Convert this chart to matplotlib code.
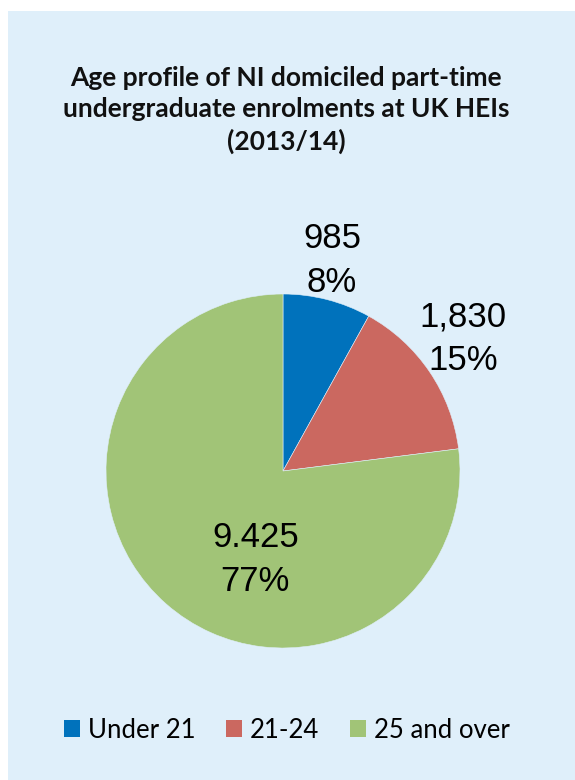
import matplotlib
import numpy as np

matplotlib.use("Agg")
import matplotlib.pyplot as plt  # noqa: E402
from matplotlib.patches import Patch, Rectangle  # noqa: E402

# NI domiciled part-time undergraduate enrolments at UK HEIs, 2013/14
AGE_GROUPS = ["Under 21", "21-24", "25 and over"]
ENROLMENTS = [985, 1830, 9425]
VALUE_TEXT = ["985", "1,830", "9.425"]
COLORS = ["#0072BC", "#CB6860", "#A1C477"]
BG = "#DFEFFA"

W, H = 575, 780
fig = plt.figure(figsize=(W / 100, H / 100), dpi=100)
fig.patch.set_facecolor("white")
fig.patches.append(Rectangle((8 / W, 0), 1 - 8 / W, 1 - 11 / H, transform=fig.transFigure,
                             facecolor=BG, edgecolor="none", zorder=-1))

fig.text(286 / W, 1 - 110 / H,
         "Age profile of NI domiciled part-time\nundergraduate enrolments at UK HEIs\n(2013/14)",
         ha="center", va="center", fontsize=19, fontweight="bold", family="Lato",
         linespacing=1.36, color="#111111")

# pie: centre (283, 471) px, radius 177 px
cx, cy, r = 283, 471, 177
ax = fig.add_axes([(cx - r) / W, (H - cy - r) / H, 2 * r / W, 2 * r / H])
wedges, _ = ax.pie(ENROLMENTS, colors=COLORS, startangle=90, counterclock=False, radius=1,
                   wedgeprops=dict(edgecolor=BG, linewidth=0.4))
ax.set_xlim(-1, 1)
ax.set_ylim(-1, 1)
ax.axis("off")

total = sum(ENROLMENTS)
# label offsets in units of the radius: (distance along wedge mid-angle, extra x, extra y)
label_pos = [(1.24, -0.034, -0.011), (1.26, -0.025, 0.039), (0.0, -0.156, -0.50)]
for w, v, txt, (d, ox, oy) in zip(wedges, ENROLMENTS, VALUE_TEXT, label_pos):
    mid = np.deg2rad((w.theta1 + w.theta2) / 2)
    x, y = d * np.cos(mid) + ox, d * np.sin(mid) + oy
    ax.text(x, y, f"{txt}\n{100 * v / total:.0f}%", ha="center", va="center",
            fontsize=25, family="Liberation Sans", linespacing=1.42, color="black",
            clip_on=False)

handles = [Patch(facecolor=c, edgecolor="none") for c in COLORS]
fig.legend(handles, AGE_GROUPS, loc="center", bbox_to_anchor=(287 / W, 1 - 730 / H), ncol=3,
           frameon=False, prop={"family": "Lato", "size": 18.5}, handlelength=0.62,
           handleheight=0.62, handletextpad=0.3, columnspacing=1.2, borderpad=0)

fig.savefig("out.png", dpi=100, facecolor=fig.get_facecolor())
